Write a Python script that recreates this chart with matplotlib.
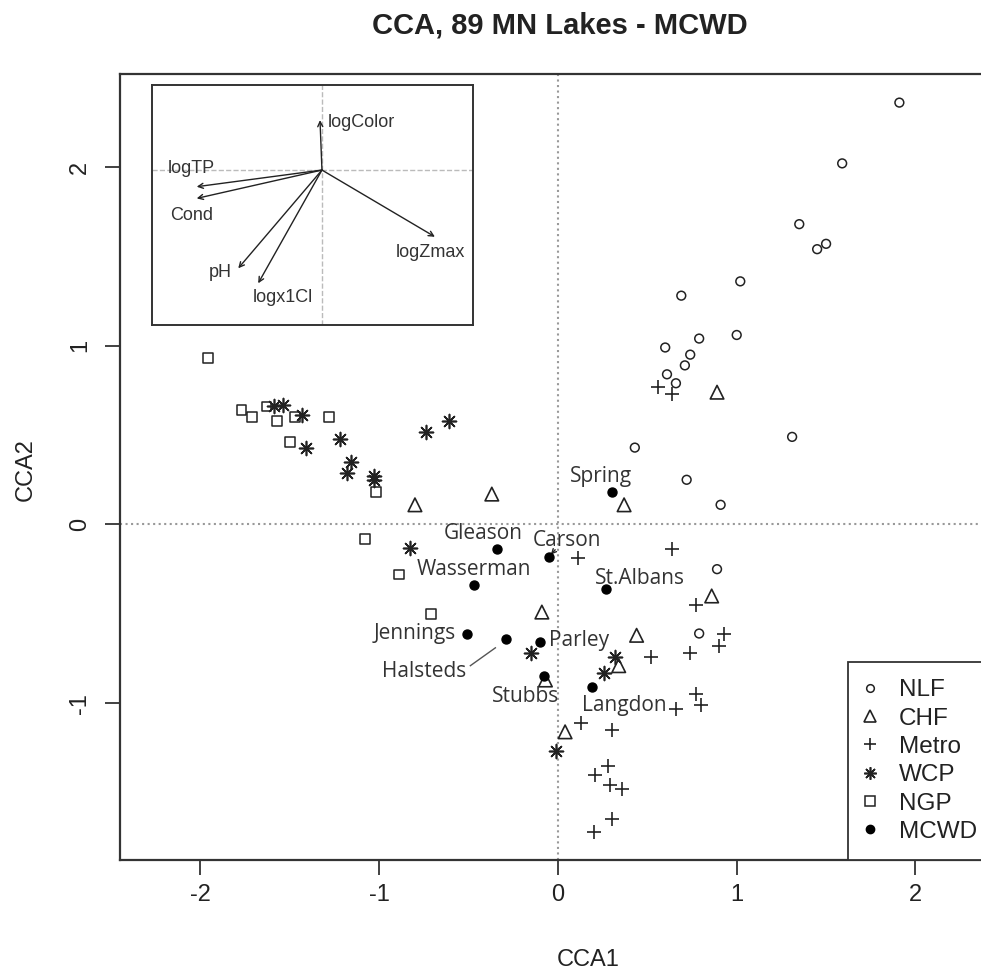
import matplotlib
matplotlib.use("Agg")
import matplotlib.pyplot as plt
from matplotlib.lines import Line2D

# site scores, one group per region
nlf_x = [1.91, 1.59, 1.35, 1.50, 1.45, 1.02, 0.69, 1.00, 0.79, 0.60,
         0.74, 0.71, 0.61, 0.66, 1.31, 0.43, 0.72, 0.91, 0.89, 0.79]
nlf_y = [2.36, 2.02, 1.68, 1.57, 1.54, 1.36, 1.28, 1.06, 1.04, 0.99,
         0.95, 0.89, 0.84, 0.79, 0.49, 0.43, 0.25, 0.11, -0.25, -0.61]

chf_x = [0.89, 0.37, -0.80, -0.37, -0.09, 0.04, -0.07, 0.86, 0.44, 0.34]
chf_y = [0.74, 0.11, 0.11, 0.17, -0.49, -1.16, -0.87, -0.40, -0.62, -0.79]

metro_x = [0.56, 0.64, 0.11, 0.64, 0.77, 0.93, 0.90, 0.74, 0.52, 0.77,
           0.80, 0.66, 0.30, 0.13, 0.28, 0.21, 0.29, 0.36, 0.30, 0.20]
metro_y = [0.77, 0.73, -0.19, -0.14, -0.45, -0.61, -0.68, -0.72, -0.74, -0.95,
           -1.01, -1.03, -1.15, -1.11, -1.35, -1.40, -1.46, -1.48, -1.65, -1.72]

wcp_x = [-1.54, -1.59, -1.43, -1.41, -1.22, -1.16, -1.18, -1.03,
         -1.03, -0.74, -0.61, -0.83, -0.15, 0.32, 0.26, -0.01]
wcp_y = [0.67, 0.66, 0.61, 0.43, 0.48, 0.35, 0.29, 0.27,
         0.25, 0.52, 0.58, -0.13, -0.72, -0.74, -0.83, -1.27]

ngp_x = [-1.96, -1.77, -1.71, -1.63, -1.57, -1.47, -1.28, -1.50, -1.02, -1.08, -0.89, -0.71]
ngp_y = [0.93, 0.64, 0.60, 0.66, 0.58, 0.60, 0.60, 0.46, 0.18, -0.08, -0.28, -0.50]

mcwd_names = ["Spring", "Gleason", "Carson", "Wasserman", "St.Albans",
              "Jennings", "Halsteds", "Parley", "Stubbs", "Langdon"]
mcwd_x = [0.30, -0.34, -0.05, -0.47, 0.27, -0.51, -0.29, -0.10, -0.08, 0.19]
mcwd_y = [0.18, -0.14, -0.18, -0.34, -0.36, -0.61, -0.64, -0.66, -0.85, -0.91]
label_x = [0.24, -0.42, 0.05, -0.47, 0.46, -0.80, -0.75, 0.12, -0.18, 0.37]
label_y = [0.27, -0.05, -0.09, -0.25, -0.30, -0.61, -0.82, -0.65, -0.96, -1.01]

# environmental biplot arrows for the inset
env_names = ["logColor", "logTP", "Cond", "pH", "logx1Cl", "logZmax"]
env_x = [-0.013, -0.835, -0.835, -0.558, -0.425, 0.753]
env_y = [0.333, -0.111, -0.189, -0.655, -0.755, -0.445]
env_lab_x = [0.04, -0.87, -0.87, -0.68, -0.26, 0.72]
env_lab_y = [0.32, 0.01, -0.30, -0.68, -0.85, -0.55]

ink = "#222222"
plt.rcParams["font.family"] = ["Liberation Sans", "DejaVu Sans"]
plt.rcParams["axes.unicode_minus"] = False

fig = plt.figure(figsize=(9.81, 9.74), dpi=100)
ax = fig.add_axes([120 / 981, 1 - 860 / 974, 870 / 981, 786 / 974])

ax.axvline(0, color="#999999", ls=":", lw=1.5, zorder=1)
ax.axhline(0, color="#999999", ls=":", lw=1.5, zorder=1)

ax.scatter(nlf_x, nlf_y, s=40, marker="o", facecolors="none", edgecolors=ink, linewidths=1.1, zorder=3)
ax.scatter(chf_x, chf_y, s=95, marker="^", facecolors="none", edgecolors=ink, linewidths=1.2, zorder=3)
ax.scatter(metro_x, metro_y, s=88, marker="+", color=ink, linewidths=1.2, zorder=3)
ax.scatter(wcp_x, wcp_y, s=100, marker=(8, 2, 0), color=ink, linewidths=1.2, zorder=3)
ax.scatter(ngp_x, ngp_y, s=50, marker="s", facecolors="none", edgecolors=ink, linewidths=1.1, zorder=3)
ax.scatter(mcwd_x, mcwd_y, s=42, marker="o", color="black", zorder=4)

for i in range(len(mcwd_names)):
    ax.text(label_x[i], label_y[i], mcwd_names[i], fontsize=15, family=["Open Sans", "DejaVu Sans"],
            color="#333333", ha="center", va="center", zorder=5)

# leader for Halsteds and small arrow for Carson
ax.plot([label_x[6] + 0.26, mcwd_x[6] - 0.06], [label_y[6] + 0.03, mcwd_y[6] - 0.05], color="#555555", lw=1)
ax.annotate("", xy=(mcwd_x[2], mcwd_y[2]), xytext=(mcwd_x[2] + 0.045, label_y[2] - 0.04),
            arrowprops=dict(arrowstyle="->", color=ink, lw=1, mutation_scale=8))

ax.set_xlim(-2.450, 2.417)
ax.set_ylim(-1.877, 2.520)
ax.set_xticks([-2, -1, 0, 1, 2])
ax.set_yticks([-1, 0, 1, 2])
ax.tick_params(direction="out", length=11, width=1.3, color="#333333", labelsize=17, labelcolor=ink)
ax.tick_params(axis="x", pad=6)
ax.tick_params(axis="y", pad=10)
for lab in ax.get_yticklabels():
    lab.set_rotation(90)
    lab.set_va("center")
for sp in ax.spines.values():
    sp.set_color("#333333")
    sp.set_linewidth(1.6)

fig.text(588 / 981, 1 - 960 / 974, "CCA1", fontsize=17, color=ink, ha="center", va="center")
fig.text(26 / 981, 1 - 470 / 974, "CCA2", fontsize=17, color=ink, ha="center", va="center", rotation=90)
fig.text(560 / 981, 1 - 34 / 974, "CCA, 89 MN Lakes - MCWD", fontsize=21, fontweight="bold",
         color=ink, ha="center", va="baseline")

handles = [
    Line2D([], [], ls="none", marker="o", ms=5.5, mfc="none", mec=ink, mew=1.1),
    Line2D([], [], ls="none", marker="^", ms=9, mfc="none", mec=ink, mew=1.2),
    Line2D([], [], ls="none", marker="+", ms=9, color=ink, mew=1.2),
    Line2D([], [], ls="none", marker=(8, 2, 0), ms=9, color=ink, mew=1.2),
    Line2D([], [], ls="none", marker="s", ms=6.5, mfc="none", mec=ink, mew=1.1),
    Line2D([], [], ls="none", marker="o", ms=6, color="black"),
]
leg = ax.legend(handles, ["NLF", "CHF", "Metro", "WCP", "NGP", "MCWD"], loc="lower left",
                bbox_to_anchor=((848 - 120) / 870, 0), borderaxespad=0, fontsize=17.5,
                labelspacing=0.26, borderpad=0.7, handlelength=0.4, handletextpad=1.0,
                fancybox=False, framealpha=1, edgecolor="#333333", labelcolor=ink)
leg.get_frame().set_linewidth(1.3)

# inset with the environmental vectors
ins = fig.add_axes([152 / 981, 1 - 325 / 974, 321 / 981, 240 / 974])
ins.set_xlim(-1.133, 1.007)
ins.set_ylim(-1.033, 0.567)
ins.axvline(0, color="#bbbbbb", ls="--", lw=1)
ins.axhline(0, color="#bbbbbb", ls="--", lw=1)
for i in range(len(env_names)):
    ins.annotate("", xy=(env_x[i], env_y[i]), xytext=(0, 0),
                 arrowprops=dict(arrowstyle="->", color=ink, lw=1, mutation_scale=9, shrinkA=0, shrinkB=0))
    ha = "left" if i == 0 else "center"
    ins.text(env_lab_x[i], env_lab_y[i], env_names[i], fontsize=13, color="#333333", ha=ha, va="center")
ins.set_xticks([])
ins.set_yticks([])
for sp in ins.spines.values():
    sp.set_color("#333333")
    sp.set_linewidth(1.4)

fig.savefig("out.png", dpi=100)
